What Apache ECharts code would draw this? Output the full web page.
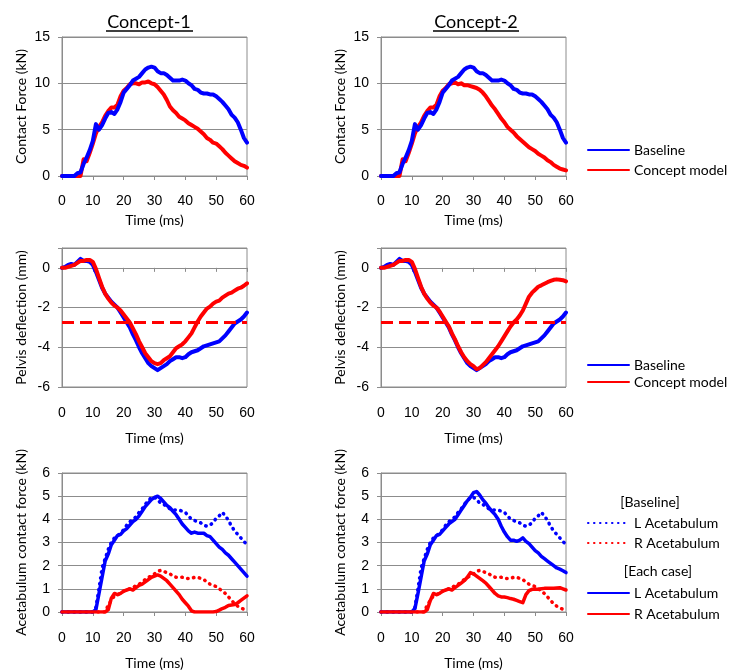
<!DOCTYPE html>
<html><head><meta charset="utf-8">
<script src="https://cdn.jsdelivr.net/npm/echarts@6/dist/echarts.min.js"></script>
<style>html,body{margin:0;padding:0;background:#fff}#c{width:736px;height:671px}</style>
</head><body><div id="c"></div>
<script>
// ---------- data ----------
const time = [0,1,2,3,4,5,6,7,8,9,10,11,12,13,14,15,16,17,18,19,20,21,22,23,24,25,26,27,28,29,30,31,32,33,34,35,36,37,38,39,40,41,42,43,44,45,46,47,48,49,50,51,52,53,54,55,56,57,58,59,60];
const xTicks = [0,10,20,30,40,50,60];

// Contact force (kN)
const forceBaseline = [0,0,0,0,0,0.3,0.4,1.3,2.0,2.8,3.8,5.6,5.0,5.5,6.2,6.8,6.9,6.7,7.2,8.0,9.0,9.4,9.8,10.3,10.5,10.7,11.1,11.5,11.7,11.8,11.7,11.3,11.1,11.1,10.9,10.6,10.3,10.3,10.3,10.4,10.3,10.0,9.8,9.4,9.3,9.0,8.9,8.9,8.8,8.8,8.6,8.3,8.0,7.6,7.2,6.6,6.3,5.8,5.0,4.1,3.6];
const forceConcept1 = [0,0,0,0,0,0,0,1.8,1.6,2.5,3.5,4.6,5.3,5.8,6.5,7.0,7.4,7.4,7.7,8.6,9.2,9.5,9.9,10.0,10.0,9.9,10.1,10.1,10.2,10.0,9.9,9.6,9.2,8.8,8.2,7.5,7.1,6.8,6.4,6.2,6.0,5.7,5.5,5.3,5.1,4.8,4.5,4.1,3.9,3.6,3.5,3.2,2.9,2.5,2.2,1.9,1.6,1.4,1.2,1.1,0.9];
const forceConcept2 = [0,0,0,0,0,0,0,1.8,1.6,2.5,3.5,4.6,5.3,5.8,6.5,7.0,7.4,7.4,7.7,8.6,9.2,9.5,9.9,10.0,10.1,9.9,10.0,9.8,9.8,9.7,9.6,9.5,9.3,9.0,8.6,8.1,7.6,7.2,6.7,6.2,5.8,5.3,5.0,4.7,4.3,4.0,3.7,3.4,3.1,2.9,2.7,2.4,2.2,2.0,1.7,1.5,1.2,1.0,0.8,0.7,0.6];

// Pelvis deflection (mm)
const pelvisBaseline = [0,0.05,0.15,0.2,0.15,0.3,0.45,0.35,0.35,0.3,0.15,-0.2,-0.6,-1.0,-1.3,-1.5,-1.7,-1.85,-2.0,-2.25,-2.5,-2.75,-3.0,-3.35,-3.65,-4.0,-4.3,-4.55,-4.8,-4.95,-5.05,-5.15,-5.05,-4.95,-4.85,-4.7,-4.6,-4.5,-4.5,-4.55,-4.5,-4.35,-4.25,-4.2,-4.15,-4.05,-3.95,-3.9,-3.85,-3.8,-3.75,-3.7,-3.55,-3.4,-3.2,-3.0,-2.8,-2.7,-2.6,-2.45,-2.25];
const pelvisConcept1 = [0,0,0.05,0.1,0.15,0.25,0.35,0.35,0.4,0.4,0.3,-0.05,-0.5,-0.95,-1.3,-1.55,-1.75,-1.9,-2.0,-2.15,-2.35,-2.55,-2.75,-3.05,-3.35,-3.7,-4.0,-4.3,-4.5,-4.7,-4.8,-4.85,-4.8,-4.65,-4.55,-4.45,-4.25,-4.05,-3.95,-3.85,-3.7,-3.5,-3.3,-3.0,-2.7,-2.45,-2.25,-2.05,-1.95,-1.8,-1.7,-1.65,-1.5,-1.4,-1.3,-1.25,-1.15,-1.05,-1.0,-0.9,-0.78];
const pelvisConcept2 = [0,0,0.05,0.1,0.15,0.25,0.35,0.35,0.4,0.4,0.3,-0.05,-0.5,-0.95,-1.3,-1.55,-1.75,-1.9,-2.0,-2.2,-2.45,-2.7,-2.95,-3.3,-3.6,-3.95,-4.25,-4.5,-4.7,-4.85,-4.95,-5.1,-5.05,-4.9,-4.75,-4.55,-4.35,-4.15,-3.95,-3.7,-3.45,-3.2,-2.95,-2.75,-2.6,-2.4,-2.15,-1.8,-1.45,-1.25,-1.1,-0.95,-0.88,-0.8,-0.72,-0.66,-0.6,-0.58,-0.6,-0.62,-0.68];
const pelvisLimit = -2.75;

// Acetabulum contact force (kN)
const acetLBaseline = [0,0,0,0,0,0,0,0,0,0,0,0.2,1.0,1.9,2.3,2.7,3.0,3.2,3.3,3.4,3.55,3.75,3.9,4.0,4.1,4.3,4.45,4.65,4.8,4.95,4.95,4.85,4.7,4.65,4.55,4.45,4.4,4.4,4.4,4.35,4.3,4.15,4.0,3.95,3.9,3.85,3.75,3.7,3.75,3.85,4.05,4.15,4.3,4.15,3.95,3.7,3.5,3.35,3.2,3.05,2.9];
const acetRBaseline = [0,0,0,0,0,0,0,0,0,0,0,0,0,0,0,0.3,0.5,0.7,0.75,0.8,0.9,0.95,1.0,1.05,1.15,1.2,1.3,1.4,1.5,1.55,1.65,1.75,1.8,1.75,1.7,1.65,1.55,1.5,1.5,1.5,1.45,1.45,1.45,1.5,1.5,1.45,1.4,1.3,1.2,1.15,1.1,1.0,0.9,0.8,0.65,0.5,0.35,0.25,0.17,0.12,0.1];
const acetLConcept1 = [0,0,0,0,0,0,0,0,0,0,0,0.1,0.8,1.5,2.2,2.5,2.9,3.1,3.3,3.35,3.5,3.6,3.75,3.9,4.0,4.15,4.35,4.55,4.7,4.85,4.95,5.0,4.9,4.75,4.6,4.5,4.35,4.2,4.0,3.8,3.65,3.5,3.4,3.45,3.4,3.4,3.4,3.3,3.25,3.1,2.95,2.8,2.7,2.55,2.45,2.3,2.15,2.0,1.85,1.7,1.55];
const acetRConcept1 = [0,0,0,0,0,0,0,0,0,0,0,0,0,0,0,0.1,0.6,0.8,0.75,0.8,0.9,0.95,1.0,0.95,1.05,1.15,1.2,1.3,1.4,1.5,1.55,1.6,1.55,1.45,1.35,1.2,1.05,0.9,0.75,0.55,0.4,0.25,0.05,0,0,0,0,0,0,0,0.02,0.08,0.15,0.2,0.28,0.3,0.32,0.4,0.5,0.6,0.7];
const acetLConcept2 = [0,0,0,0,0,0,0,0,0,0,0,0.15,0.8,1.5,2.2,2.5,2.9,3.1,3.3,3.35,3.5,3.65,3.8,3.9,4.0,4.2,4.4,4.6,4.8,4.95,5.15,5.2,5.05,4.85,4.7,4.5,4.35,4.2,4.0,3.7,3.45,3.25,3.1,3.1,3.05,3.1,3.2,3.05,2.95,2.8,2.65,2.55,2.4,2.3,2.2,2.1,2.0,1.9,1.85,1.78,1.7];
const acetRConcept2 = [0,0,0,0,0,0,0,0,0,0,0,0,0,0,0,0.1,0.5,0.8,0.75,0.8,0.9,0.95,1.0,0.95,1.05,1.15,1.25,1.35,1.5,1.7,1.65,1.55,1.45,1.35,1.25,1.1,0.95,0.8,0.7,0.65,0.65,0.62,0.58,0.55,0.5,0.45,0.4,0.75,0.92,0.98,0.98,0.98,1.0,1.02,1.02,1.03,1.03,1.04,1.05,1.0,0.95];

// ---------- chart ----------
const BLUE = '#0000ff', RED = '#ff0000', GRID = '#8c8c8c';
const TXT = 'Lato', NUM = 'Liberation Sans';
const pairs = ys => time.map((t, i) => [t, ys[i]]);

const gridPos = [
  {left: 62, top: 37}, {left: 381, top: 37},
  {left: 62, top: 248}, {left: 381, top: 248},
  {left: 62, top: 473}, {left: 381, top: 473}
];
const grid = gridPos.map(p => ({left: p.left, top: p.top, width: 185, height: 139,
  show: true, borderColor: GRID, borderWidth: 1, containLabel: false}));

function xAx(g, opts) {
  return Object.assign({
    type: 'value', gridIndex: g, min: 0, max: 60, interval: 10, position: 'bottom',
    axisLine: {show: true, onZero: false, lineStyle: {color: GRID, width: 1}},
    axisTick: {show: true, length: 4, lineStyle: {color: GRID}},
    splitLine: {show: false},
    axisLabel: {show: true, margin: 18, color: '#000', fontFamily: NUM, fontSize: 14},
    name: 'Time (ms)', nameLocation: 'middle', nameGap: 37,
    nameTextStyle: {color: '#000', fontFamily: TXT, fontSize: 14}
  }, opts);
}
const xAxis = [
  xAx(0), xAx(1),
  xAx(2, {axisLine: {show: true, onZero: true, lineStyle: {color: GRID}}, axisLabel: {show: false}, name: ''}),
  xAx(2, {axisLine: {show: false, onZero: false}, axisTick: {show: false}, axisLabel: {show: true, margin: 19, color: '#000', fontFamily: NUM, fontSize: 14}, nameGap: 44}),
  xAx(3, {axisLine: {show: true, onZero: true, lineStyle: {color: GRID}}, axisLabel: {show: false}, name: ''}),
  xAx(3, {axisLine: {show: false, onZero: false}, axisTick: {show: false}, axisLabel: {show: true, margin: 19, color: '#000', fontFamily: NUM, fontSize: 14}, nameGap: 44}),
  xAx(4, {axisLabel: {show: true, margin: 19, color: '#000', fontFamily: NUM, fontSize: 14}, nameGap: 44}),
  xAx(5, {axisLabel: {show: true, margin: 19, color: '#000', fontFamily: NUM, fontSize: 14}, nameGap: 44})
];

function yAx(g, min, max, interval, name, fmt) {
  return {
    type: 'value', gridIndex: g, min, max, interval,
    axisLine: {show: true, onZero: false, lineStyle: {color: GRID}},
    axisTick: {show: true, length: 4, lineStyle: {color: GRID}},
    splitLine: {show: true, lineStyle: {color: GRID, width: 1}},
    axisLabel: {color: '#000', fontFamily: NUM, fontSize: 14, margin: 12, formatter: fmt},
    name, nameLocation: 'middle', nameGap: 34,
    nameTextStyle: {color: '#000', fontFamily: TXT, fontSize: 14}
  };
}
const evenOnly = v => (Math.round(v) % 2 === 0 ? String(v) : '');
const yAxis = [
  yAx(0, 0, 15, 5, 'Contact Force (kN)'),
  yAx(1, 0, 15, 5, 'Contact Force (kN)'),
  yAx(2, -6, 1, 2, 'Pelvis deflection (mm)', evenOnly),
  yAx(3, -6, 1, 2, 'Pelvis deflection (mm)', evenOnly),
  yAx(4, 0, 6, 1, 'Acetabulum contact force (kN)'),
  yAx(5, 0, 6, 1, 'Acetabulum contact force (kN)')
];

function line(name, xi, yi, ys, color, width, dash, extra) {
  return Object.assign({
    type: 'line', name, xAxisIndex: xi, yAxisIndex: yi, data: pairs(ys),
    symbol: 'none', showSymbol: false, smooth: false, animation: false,
    lineStyle: {color, width, type: dash || 'solid', cap: 'round', join: 'round'},
    itemStyle: {color}
  }, extra || {});
}
const limitLine = {
  silent: true, symbol: 'none', label: {show: false},
  lineStyle: {color: RED, width: 3, type: [12, 6]},
  data: [{yAxis: pelvisLimit}]
};
const DOT = [0.5, 5.5];

const series = [
  line('Concept model', 0, 0, forceConcept1, RED, 4),
  line('Baseline', 0, 0, forceBaseline, BLUE, 4),
  line('Concept model', 1, 1, forceConcept2, RED, 4),
  line('Baseline', 1, 1, forceBaseline, BLUE, 4),

  line('Baseline', 2, 2, pelvisBaseline, BLUE, 4),
  line('Concept model', 2, 2, pelvisConcept1, RED, 4, null, {markLine: limitLine}),
  line('Baseline', 4, 3, pelvisBaseline, BLUE, 4),
  line('Concept model', 4, 3, pelvisConcept2, RED, 4, null, {markLine: limitLine}),

  line('L Acetabulum (Baseline)', 6, 4, acetLBaseline, BLUE, 3.5, DOT),
  line('R Acetabulum (Baseline)', 6, 4, acetRBaseline, RED, 3.5, DOT),
  line('L Acetabulum', 6, 4, acetLConcept1, BLUE, 3.5),
  line('R Acetabulum', 6, 4, acetRConcept1, RED, 3.5),
  line('L Acetabulum (Baseline)', 7, 5, acetLBaseline, BLUE, 3.5, DOT),
  line('R Acetabulum (Baseline)', 7, 5, acetRBaseline, RED, 3.5, DOT),
  line('L Acetabulum', 7, 5, acetLConcept2, BLUE, 3.5),
  line('R Acetabulum', 7, 5, acetRConcept2, RED, 3.5)
];

function leg(data, top, extra) {
  return Object.assign({
    data, orient: 'vertical', left: 582, top, itemWidth: 41, itemHeight: 12, itemGap: 6,
    selectedMode: false, itemStyle: {opacity: 0, borderWidth: 0},
    textStyle: {color: '#000', fontFamily: TXT, fontSize: 14}
  }, extra || {});
}
const legend = [
  leg(['Baseline', 'Concept model'], 138),
  leg(['Baseline', 'Concept model'], 353, {itemGap: 3}),
  leg(['L Acetabulum (Baseline)', 'R Acetabulum (Baseline)'], 511, {formatter: n => n.replace(' (Baseline)', '')}),
  leg(['L Acetabulum', 'R Acetabulum'], 581, {itemGap: 7})
];

const graphic = [
  {type: 'text', x: 149, y: 22, style: {text: 'Concept-1', font: '18px Lato', fill: '#000', align: 'center', verticalAlign: 'middle'}},
  {type: 'line', shape: {x1: 106, y1: 31, x2: 193, y2: 31}, style: {stroke: '#000', lineWidth: 1.5}},
  {type: 'text', x: 476, y: 22, style: {text: 'Concept-2', font: '18px Lato', fill: '#000', align: 'center', verticalAlign: 'middle'}},
  {type: 'line', shape: {x1: 433, y1: 31, x2: 519, y2: 31}, style: {stroke: '#000', lineWidth: 1.5}},
  {type: 'text', x: 650, y: 502, style: {text: '[Baseline]', font: '14px Lato', fill: '#000', align: 'center', verticalAlign: 'middle'}},
  {type: 'text', x: 658, y: 571, style: {text: '[Each case]', font: '14px Lato', fill: '#000', align: 'center', verticalAlign: 'middle'}}
];

const chart = echarts.init(document.getElementById('c'), null, {renderer: 'canvas'});
chart.setOption({animation: false, backgroundColor: '#fff', grid, xAxis, yAxis, series, legend, graphic});
</script></body></html>
